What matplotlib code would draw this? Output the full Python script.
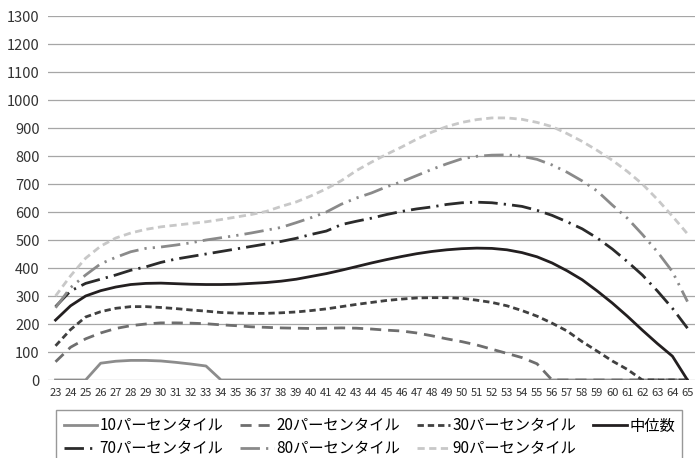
import matplotlib
matplotlib.use("Agg")
import matplotlib.pyplot as plt

plt.rcParams['font.family'] = ['Noto Sans CJK JP', 'DejaVu Sans']

# ages 23..65
ages = list(range(23, 66))

p10 = [0, 0, 0, 60, 67, 70, 70, 68, 63, 57, 50, 0, 0, 0, 0, 0, 0, 0, 0, 0, 0,
       0, 0, 0, 0, 0, 0, 0, 0, 0, 0, 0, 0, 0, 0, 0, 0, 0, 0, 0, 0, 0, 0]
p20 = [65, 117, 147, 168, 184, 194, 200, 204, 204, 203, 201, 197, 194, 190, 188, 186,
       185, 184, 185, 186, 185, 182, 178, 175, 168, 158, 147, 137, 125, 110, 95, 80,
       58, 0, 0, 0, 0, 0, 0, 0, 0, 0, 0]
p30 = [122, 180, 225, 244, 256, 262, 262, 259, 255, 250, 246, 241, 239, 238, 238, 240,
       243, 248, 254, 262, 270, 277, 284, 289, 293, 294, 294, 292, 285, 277, 265, 248,
       228, 203, 175, 137, 103, 68, 38, 0, 0, 0, 0]
median = [214, 265, 300, 319, 332, 341, 345, 346, 344, 342, 341, 341, 342, 345, 348, 353,
          360, 370, 380, 392, 405, 418, 430, 441, 451, 459, 465, 469, 471, 470, 465, 455,
          440, 418, 390, 358, 318, 275, 228, 178, 130, 85, 0]
p70 = [262, 318, 345, 360, 375, 392, 404, 420, 432, 441, 450, 459, 468, 477, 486, 495,
       506, 520, 532, 555, 567, 578, 591, 602, 611, 618, 627, 633, 635, 633, 627, 620,
       606, 588, 565, 540, 507, 468, 423, 375, 318, 256, 185]
p80 = [258, 330, 375, 415, 438, 458, 470, 475, 482, 490, 500, 508, 516, 525, 535, 545,
       562, 580, 600, 628, 650, 668, 690, 708, 730, 752, 772, 790, 799, 803, 804, 799,
       788, 768, 742, 711, 675, 625, 578, 520, 458, 387, 280]
p90 = [300, 372, 435, 478, 507, 525, 538, 547, 553, 559, 565, 573, 582, 591, 602, 620,
       636, 658, 683, 712, 748, 778, 806, 832, 860, 885, 905, 920, 930, 936, 936, 931,
       920, 905, 880, 852, 820, 785, 745, 700, 645, 585, 522]

labels = ["10パーセンタイル", "20パーセンタイル", "30パーセンタイル", "中位数",
          "70パーセンタイル", "80パーセンタイル", "90パーセンタイル"]

fig = plt.figure(figsize=(6.95, 4.58), dpi=100)
ax = fig.add_axes([48 / 695, 1 - 380 / 458, 1 - 48 / 695, (380 - 16) / 458])

lines = []
lines += ax.plot(ages, p10, color="#8c8c8c", lw=2, label=labels[0])
lines += ax.plot(ages, p20, color="#6e6e6e", lw=2, dashes=(4, 2.5), label=labels[1])
lines += ax.plot(ages, p30, color="#404040", lw=2, dashes=(2.3, 1.4), label=labels[2])
lines += ax.plot(ages, median, color="#231f20", lw=2, label=labels[3])
lines += ax.plot(ages, p70, color="#2b2b2b", lw=2, dashes=(7, 2.2, 0.8, 2.2), label=labels[4])
lines += ax.plot(ages, p80, color="#8a8a8a", lw=2, dashes=(7, 2.2, 0.8, 2.2, 0.8, 2.2), label=labels[5])
lines += ax.plot(ages, p90, color="#c8c8c8", lw=2, dashes=(2.6, 1.6), label=labels[6])

ax.set_xlim(22.5, 65.5)
ax.set_ylim(0, 1300)
ax.set_yticks(range(0, 1301, 100))
ax.set_xticks(ages)
ax.set_xticklabels([str(a) for a in ages], fontsize=8)
ax.tick_params(axis="y", labelsize=10.5, length=0, pad=6, colors="#333333")
ax.tick_params(axis="x", length=0, pad=6, colors="#333333")
ax.yaxis.grid(True, color="#a6a6a6", lw=0.9)
ax.set_axisbelow(True)
for s in ax.spines.values():
    s.set_visible(False)

# legend filled column-wise, so reorder to read row-wise like the original
order = [0, 4, 1, 5, 2, 6, 3]
leg = fig.legend([lines[i] for i in order], [labels[i] for i in order],
                 loc="upper left", bbox_to_anchor=(56 / 695, 1 - 410 / 458),
                 ncol=4, fontsize=11, handlelength=2.2, handletextpad=0.15,
                 columnspacing=1.1, labelspacing=0.35, borderpad=0.5, borderaxespad=0,
                 frameon=True, fancybox=False)
leg.get_frame().set_edgecolor("#7f7f7f")
leg.get_frame().set_linewidth(1)

fig.savefig("out.png", dpi=100)
